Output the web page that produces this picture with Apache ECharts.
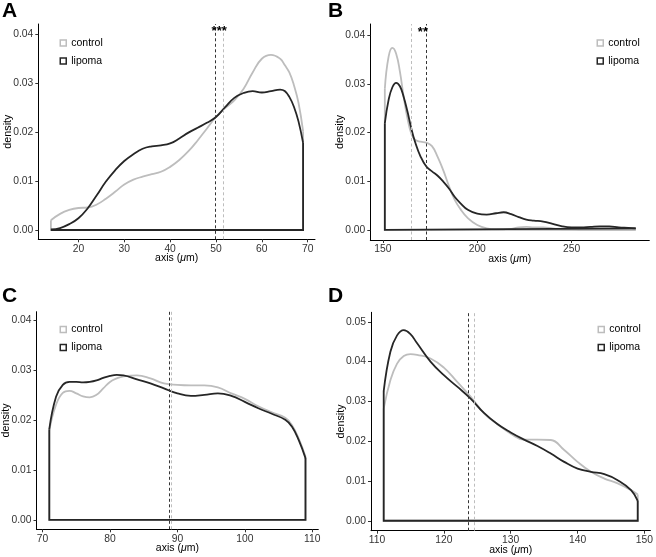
<!DOCTYPE html>
<html>
<head>
<meta charset="utf-8">
<script src="https://cdn.jsdelivr.net/npm/echarts@6/dist/echarts.min.js"></script>
<style>
html,body{margin:0;padding:0;background:#fff;}
#chart{width:656px;height:557px;}
</style>
</head>
<body>
<div id="chart"></div>
<script>
// ---------- data ----------
const panelLetters = ['A', 'B', 'C', 'D'];
const seriesNames = ['control', 'lipoma'];

const A_x = [14,16,18,20,22,24,26,28,30,32,34,36,38,40,42,44,46,48,50,52,54,56,58,60,62,64,65,66,67,68,69];
const A_control = [0.0020,0.0033,0.0041,0.0045,0.0046,0.0052,0.0064,0.0078,0.0093,0.0103,0.0109,0.0114,0.0119,0.0129,0.0143,0.0161,0.0183,0.0207,0.0231,0.0249,0.0265,0.0288,0.0322,0.0350,0.0358,0.0350,0.0337,0.0322,0.0296,0.0260,0.0202];
const A_lipoma = [0.0001,0.0004,0.0012,0.0024,0.0044,0.0071,0.0099,0.0122,0.0141,0.0155,0.0166,0.0171,0.0173,0.0177,0.0187,0.0199,0.0209,0.0219,0.0231,0.0251,0.0270,0.0280,0.0284,0.0281,0.0284,0.0287,0.0284,0.0272,0.0252,0.0222,0.0178];
const A_means = [51.6, 49.8];          // control, lipoma
const A_sig = '***';
const A_sigPos = [50.7, 0.0405];

const B_x = [151,153,155,157,159,161,163,165,167,170,173,176,179,182,185,188,191,195,200,205,210,214,218,222,226,230,235,240,245,250,255,260,265,270,275,280,284];
const B_control = [0.0290,0.0356,0.0374,0.0362,0.0325,0.0273,0.0229,0.0198,0.0185,0.0181,0.0179,0.0172,0.0150,0.0122,0.0090,0.0062,0.0043,0.0024,0.0010,0.0003,0.0001,0.0001,0.0002,0.0005,0.0006,0.0005,0.0005,0.0003,0.0001,0.0001,0,0,0,0,0,0,0];
const B_lipoma = [0.0219,0.0267,0.0293,0.0302,0.0295,0.0273,0.0243,0.0209,0.0181,0.0150,0.0130,0.0120,0.0111,0.0099,0.0085,0.0068,0.0055,0.0041,0.0033,0.0031,0.0034,0.0036,0.0032,0.0026,0.0021,0.0019,0.0017,0.0012,0.0007,0.0005,0.0005,0.0006,0.0007,0.0007,0.0005,0.0004,0.0003];
const B_means = [165.2, 173.2];
const B_sig = '**';
const B_sigPos = [171.2, 0.0405];

const C_x = [71,72,73,74,75,76,77,78,79,80,81,82,84,86,88,90,92,94,96,98,100,102,104,106,107,108,109];
const C_control = [0.0180,0.0231,0.0255,0.0259,0.0254,0.0248,0.0246,0.0251,0.0264,0.0277,0.0284,0.0288,0.0290,0.0284,0.0274,0.0271,0.0270,0.0270,0.0266,0.0254,0.0243,0.0228,0.0216,0.0205,0.0190,0.0163,0.0127];
const C_lipoma = [0.0182,0.0247,0.0271,0.0277,0.0277,0.0276,0.0277,0.0280,0.0285,0.0289,0.0291,0.0290,0.0282,0.0274,0.0264,0.0254,0.0249,0.0251,0.0254,0.0249,0.0237,0.0224,0.0213,0.0201,0.0187,0.0160,0.0124];
const C_means = [89.05, 88.76];

const D_x = [111,112,113,114,115,116,118,120,122,124,126,128,130,132,134,136,138,140,142,144,146,148,149];
const D_control = [0.0282,0.0353,0.0395,0.0414,0.0419,0.0417,0.0408,0.0385,0.0349,0.0312,0.0270,0.0243,0.0219,0.0204,0.0204,0.0203,0.0178,0.0148,0.0123,0.0106,0.0094,0.0077,0.0066];
const D_lipoma = [0.0326,0.0425,0.0466,0.0479,0.0469,0.0446,0.0400,0.0366,0.0337,0.0307,0.0271,0.0243,0.0222,0.0204,0.0188,0.0169,0.0148,0.0131,0.0123,0.0117,0.0102,0.0077,0.0050];
const D_means = [124.6, 123.7];

const A_xTicks = [20,30,40,50,60,70];
const B_xTicks = [150,200,250];
const C_xTicks = [70,80,90,100,110];
const D_xTicks = [110,120,130,140,150];
const ABC_yTicks = [0,0.01,0.02,0.03,0.04];
const D_yTicks = [0,0.01,0.02,0.03,0.04,0.05];

// ---------- layout / style ----------
const FONT = 'Liberation Sans, Arial, Helvetica, sans-serif';
const COLORS = {control: '#bdbdbd', lipoma: '#262626'};
const LW = 1.8;

const panels = [
  {x: A_x, c: A_control, l: A_lipoma, means: A_means, sig: A_sig, sigPos: A_sigPos, xTicks: A_xTicks, yTicks: ABC_yTicks,
   xr: [11.25, 71.6], yr: [-0.0019, 0.0421], grid: {left: 38.3, top: 24, width: 276.7, height: 215.3}, legendLeft: 59.5, legendTop: 37.5},
  {x: B_x, c: B_control, l: B_lipoma, means: B_means, sig: B_sig, sigPos: B_sigPos, xTicks: B_xTicks, yTicks: ABC_yTicks,
   xr: [143.3, 291.2], yr: [-0.0021, 0.0423], grid: {left: 370.3, top: 24, width: 279, height: 216}, legendLeft: 596.5, legendTop: 37.5},
  {x: C_x, c: C_control, l: C_lipoma, means: C_means, sig: null, xTicks: C_xTicks, yTicks: ABC_yTicks,
   xr: [69.1, 110.9], yr: [-0.0019, 0.0418], grid: {left: 35.3, top: 311.7, width: 283, height: 217.6}, legendLeft: 59.5, legendTop: 324},
  {x: D_x, c: D_control, l: D_lipoma, means: D_means, sig: null, xTicks: D_xTicks, yTicks: D_yTicks,
   xr: [109.1, 150.9], yr: [-0.0025, 0.0524], grid: {left: 371, top: 312.3, width: 281, height: 218.4}, legendLeft: 597.5, legendTop: 324}
];

const letterPos = [[2, 1], [328, 1], [2, 286], [328, 286]];

const grids = [], xAxes = [], yAxes = [], series = [], legends = [], titles = [];

panels.forEach((p, i) => {
  grids.push(Object.assign({containLabel: false}, p.grid));
  xAxes.push({
    type: 'value', gridIndex: i, min: p.xr[0], max: p.xr[1],
    name: 'axis ({i|μ}m)', nameLocation: 'middle', nameGap: 13.5, nameMoveOverlap: false,
    nameTextStyle: {fontFamily: FONT, fontSize: 10.5, color: '#000', verticalAlign: 'top',
      rich: {i: {fontFamily: FONT, fontSize: 10.5, fontStyle: 'italic', color: '#000'}}},
    axisLine: {show: true, onZero: false, lineStyle: {color: '#000', width: 1}},
    axisTick: {show: true, length: 3, customValues: p.xTicks, lineStyle: {color: '#333'}},
    axisLabel: {customValues: p.xTicks, margin: 4.5, fontFamily: FONT, fontSize: 10.3, color: '#333'},
    splitLine: {show: false}
  });
  yAxes.push({
    type: 'value', gridIndex: i, min: p.yr[0], max: p.yr[1],
    name: 'density', nameLocation: 'middle', nameGap: 24.5, nameMoveOverlap: false,
    nameTextStyle: {fontFamily: FONT, fontSize: 10.8, color: '#000'},
    axisLine: {show: true, onZero: false, lineStyle: {color: '#000', width: 1}},
    axisTick: {show: true, length: 3, customValues: p.yTicks, lineStyle: {color: '#333'}},
    axisLabel: {customValues: p.yTicks, margin: 5, fontFamily: FONT, fontSize: 10.3, color: '#333',
      formatter: v => v.toFixed(2)},
    splitLine: {show: false}
  });

  const groups = [['control', p.c], ['lipoma', p.l]];
  groups.forEach(([name, ys]) => {
    const n = p.x.length;
    const curve = p.x.map((xv, k) => [xv, ys[k]]);
    const frame = [[p.x[n - 1], ys[n - 1]], [p.x[n - 1], 0], [p.x[0], 0], [p.x[0], ys[0]]];
    series.push({
      type: 'line', name: name, xAxisIndex: i, yAxisIndex: i, data: curve,
      smooth: 0.45, symbol: 'none', silent: true,
      lineStyle: {color: COLORS[name], width: LW}, itemStyle: {color: COLORS[name]},
      z: name === 'lipoma' ? 4 : 3
    });
    series.push({
      type: 'line', name: name, xAxisIndex: i, yAxisIndex: i, data: frame,
      smooth: false, symbol: 'none', silent: true,
      lineStyle: {color: COLORS[name], width: LW, join: 'miter'}, itemStyle: {color: COLORS[name]},
      z: name === 'lipoma' ? 4 : 3
    });
  });

  // mean lines
  const ml = {
    type: 'line', xAxisIndex: i, yAxisIndex: i, data: [], silent: true, z: 2,
    markLine: {
      silent: true, symbol: ['none', 'none'], label: {show: false},
      data: [
        {xAxis: p.means[0], lineStyle: {color: COLORS.control, type: [3, 2.5], width: 1}},
        {xAxis: p.means[1], lineStyle: {color: '#333', type: [3, 2.5], width: 1}}
      ]
    }
  };
  if (p.sig) {
    ml.markPoint = {
      silent: true, symbol: 'circle', symbolSize: 0,
      label: {show: true, formatter: p.sig, fontFamily: FONT, fontSize: 13, fontWeight: 'bold', color: '#000',
        position: 'inside'},
      data: [{coord: p.sigPos, value: p.sig}]
    };
  }
  series.push(ml);

  legends.push({
    orient: 'vertical', left: p.legendLeft, top: p.legendTop, padding: 0,
    itemWidth: 6, itemHeight: 6, itemGap: 7, selectedMode: false,
    textStyle: {fontFamily: FONT, fontSize: 10.5, color: '#000'},
    data: seriesNames.map(nm => ({
      name: nm, icon: 'rect',
      itemStyle: {color: '#fff', borderColor: COLORS[nm], borderWidth: 1.5}
    }))
  });

  titles.push({
    text: panelLetters[i], left: letterPos[i][0], top: letterPos[i][1], padding: 0,
    textStyle: {fontFamily: FONT, fontSize: 21, fontWeight: 'bold', color: '#000'}
  });
});

const chart = echarts.init(document.getElementById('chart'), null, {renderer: 'canvas'});
chart.setOption({
  animation: false,
  backgroundColor: '#fff',
  title: titles,
  grid: grids,
  xAxis: xAxes,
  yAxis: yAxes,
  legend: legends,
  tooltip: {show: false},
  series: series
});
</script>
</body>
</html>
